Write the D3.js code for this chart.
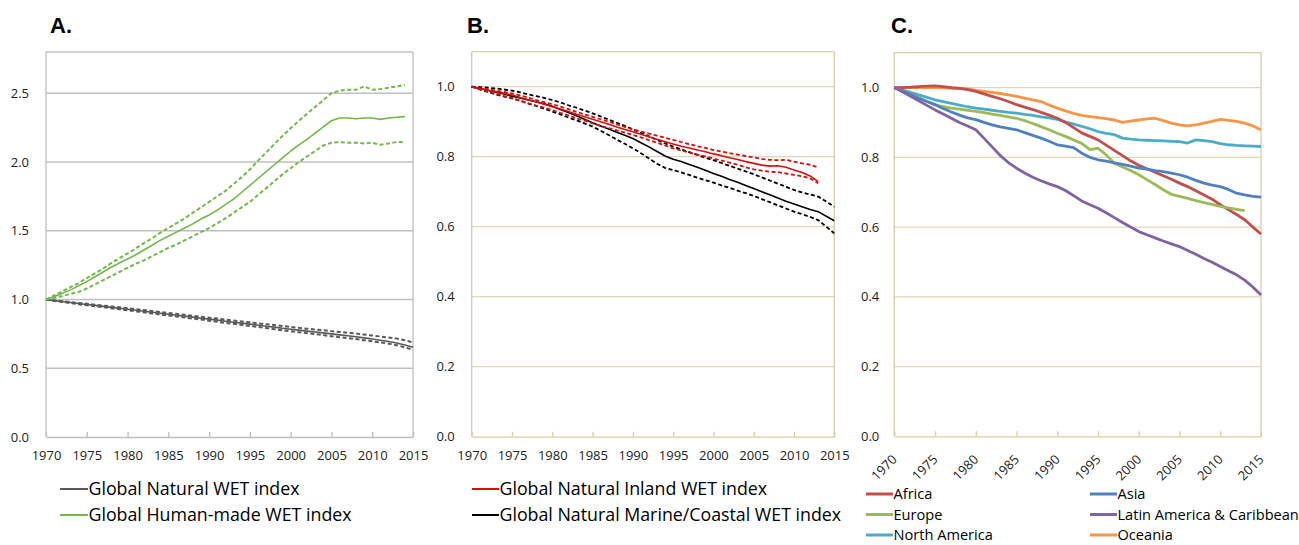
<!DOCTYPE html>
<html><head><meta charset="utf-8">
<script src="https://cdn.jsdelivr.net/npm/d3@7"></script>
<style>body{margin:0;background:#fff;} svg{display:block;}</style>
</head><body><svg id="c" width="1299" height="545"></svg>
<script>
// ---------- DATA ----------
const years = d3.range(1970, 2016);           // 1970..2015
const xTickLabels = [1970,1975,1980,1985,1990,1995,2000,2005,2010,2015];
const yTicksA = [0, 0.5, 1.0, 1.5, 2.0, 2.5];
const yTicksBC = [0, 0.2, 0.4, 0.6, 0.8, 1.0];

// Panel A
const natural = [1.000,.992,.985,.978,.971,.964,.957,.950,.943,.936,.929,.922,.915,.907,.900,.893,.886,.879,.872,.864,.857,.850,.842,.835,.828,.821,.813,.806,.799,.791,.784,.777,.770,.764,.757,.750,.743,.736,.729,.721,.713,.704,.694,.683,.669,.653];
const naturalHi = [1.000,.993,.987,.981,.975,.969,.962,.956,.950,.943,.936,.930,.923,.916,.909,.902,.896,.889,.882,.875,.868,.861,.854,.847,.840,.834,.827,.820,.814,.807,.800,.794,.788,.782,.776,.770,.764,.758,.752,.745,.738,.731,.724,.716,.704,.688];
const naturalLo = [1.000,.990,.982,.974,.966,.958,.951,.944,.936,.929,.922,.914,.907,.899,.891,.884,.876,.869,.861,.854,.846,.838,.830,.823,.815,.807,.800,.792,.784,.776,.769,.762,.755,.748,.741,.733,.726,.719,.712,.704,.696,.688,.679,.668,.652,.634];
const humanMade = [1.0,1.02,1.045,1.07,1.10,1.13,1.165,1.20,1.235,1.265,1.295,1.325,1.36,1.395,1.43,1.46,1.49,1.52,1.55,1.585,1.615,1.65,1.69,1.73,1.78,1.83,1.88,1.93,1.98,2.03,2.08,2.125,2.165,2.21,2.255,2.30,2.32,2.32,2.315,2.32,2.32,2.31,2.32,2.325,2.33];
const humanMadeHi = [1.0,1.03,1.06,1.09,1.12,1.155,1.19,1.225,1.265,1.30,1.335,1.37,1.41,1.445,1.485,1.52,1.555,1.59,1.63,1.67,1.71,1.75,1.79,1.84,1.89,1.945,2.01,2.07,2.13,2.19,2.245,2.30,2.35,2.40,2.45,2.50,2.52,2.525,2.525,2.55,2.525,2.53,2.54,2.55,2.56];
const humanMadeLo = [1.0,1.01,1.025,1.04,1.055,1.08,1.11,1.14,1.17,1.20,1.23,1.26,1.285,1.315,1.345,1.375,1.40,1.43,1.46,1.49,1.52,1.555,1.59,1.63,1.67,1.71,1.76,1.81,1.86,1.91,1.955,2.00,2.04,2.08,2.12,2.14,2.145,2.14,2.14,2.135,2.14,2.125,2.135,2.145,2.145];

// Panel B
const marine = [1.000,.995,.990,.984,.979,.973,.968,.962,.957,.951,.944,.935,.926,.917,.907,.897,.888,.879,.870,.861,.852,.840,.828,.815,.802,.793,.786,.778,.770,.761,.752,.744,.735,.727,.718,.709,.700,.691,.682,.673,.665,.657,.649,.643,.630,.617];
const marineHi = [1.0,.999,.997,.995,.992,.989,.984,.978,.973,.968,.962,.955,.947,.940,.932,.924,.915,.906,.897,.888,.878,.868,.858,.848,.838,.829,.821,.813,.805,.797,.790,.782,.774,.766,.758,.750,.741,.732,.723,.714,.705,.698,.692,.686,.672,.657];
const marineLo = [1.0,.992,.985,.978,.972,.967,.960,.952,.945,.937,.929,.921,.912,.904,.895,.886,.874,.862,.849,.837,.824,.810,.795,.780,.768,.762,.755,.748,.740,.733,.726,.718,.711,.703,.696,.688,.679,.670,.661,.652,.643,.636,.628,.619,.600,.581];
const inland = [1.0,.995,.990,.986,.981,.976,.969,.963,.956,.950,.943,.936,.929,.921,.914,.907,.900,.893,.885,.878,.871,.864,.857,.850,.843,.836,.830,.825,.819,.814,.808,.803,.797,.792,.786,.781,.776,.773,.774,.770,.762,.755,.745,.729];
const inlandHi = [1.0,.996,.992,.989,.985,.981,.975,.969,.962,.956,.950,.943,.936,.928,.921,.914,.907,.900,.892,.885,.878,.872,.866,.860,.854,.848,.842,.836,.830,.825,.819,.815,.810,.806,.802,.798,.794,.791,.790,.791,.786,.781,.777,.769];
const inlandLo = [1.0,.993,.986,.980,.973,.967,.960,.953,.946,.940,.933,.925,.918,.910,.903,.895,.888,.882,.875,.869,.862,.855,.847,.840,.832,.824,.818,.812,.806,.801,.795,.789,.783,.777,.770,.764,.760,.757,.756,.752,.748,.744,.738,.724];

// Panel C
const africa = [1.0,1.0,1.001,1.003,1.004,1.005,1.003,1.0,.998,.994,.989,.982,.975,.968,.960,.951,.944,.937,.929,.921,.912,.900,.885,.870,.860,.850,.835,.820,.805,.790,.777,.767,.757,.747,.737,.726,.716,.704,.692,.680,.664,.650,.636,.621,.600,.580];
const asia = [1.0,.990,.980,.970,.960,.951,.940,.930,.921,.913,.908,.900,.893,.887,.883,.879,.871,.863,.855,.846,.836,.832,.828,.812,.800,.793,.789,.784,.780,.775,.769,.766,.762,.759,.755,.750,.743,.734,.726,.720,.716,.708,.697,.692,.688,.686];
const europe = [1.0,.990,.980,.970,.960,.951,.945,.941,.938,.935,.932,.928,.924,.920,.916,.912,.905,.897,.888,.879,.869,.860,.850,.840,.822,.826,.807,.783,.772,.762,.750,.736,.722,.707,.694,.688,.682,.676,.670,.665,.659,.655,.651,.647];
const latinAmerica = [1.0,.988,.975,.962,.949,.936,.924,.912,.900,.890,.879,.855,.830,.805,.785,.769,.755,.743,.733,.724,.716,.705,.690,.675,.664,.654,.641,.627,.613,.600,.587,.578,.569,.560,.552,.544,.533,.522,.510,.499,.487,.475,.463,.448,.428,.405];
const northAmerica = [1.0,.993,.986,.979,.972,.965,.960,.955,.950,.945,.941,.938,.935,.932,.929,.927,.923,.920,.916,.913,.909,.902,.895,.889,.882,.874,.869,.865,.855,.852,.850,.849,.848,.847,.846,.845,.841,.850,.848,.845,.839,.836,.834,.833,.832,.831];
const oceania = [1.0,1.0,1.0,1.0,1.0,1.0,.999,.998,.998,.996,.992,.989,.986,.983,.979,.975,.970,.965,.960,.950,.941,.933,.926,.920,.917,.914,.911,.907,.900,.904,.907,.910,.912,.905,.898,.893,.890,.893,.898,.903,.909,.906,.903,.898,.890,.879];

const legendA = ["Global Natural WET index", "Global Human-made WET index"];
const legendB = ["Global Natural Inland WET index", "Global Natural Marine/Coastal WET index"];
const legendC = ["Africa","Asia","Europe","Latin America & Caribbean","North America","Oceania"];

// ---------- DRAW ----------
const svg = d3.select("#c");
const FONT = "'Open Sans', sans-serif";

function panel(cfg) {
  const x = d3.scaleLinear().domain([1970, 2015]).range([cfg.x0, cfg.x1]);
  const y = d3.scaleLinear().domain([0, cfg.yMax]).range([cfg.y1, cfg.y0]);
  const g = svg.append("g");
  g.append("text").attr("x", cfg.tx).attr("y", 33).text(cfg.title)
    .attr("font-family", "'Liberation Sans', Arial, sans-serif").attr("font-weight", "bold")
    .attr("font-size", 22).attr("fill", "#000");
  g.selectAll(".grid").data(cfg.yTicks.filter(d => d > 0)).enter().append("line")
    .attr("x1", cfg.x0).attr("x2", cfg.x1).attr("y1", d => y(d)).attr("y2", d => y(d))
    .attr("stroke", cfg.grid).attr("stroke-width", 1.3);
  g.append("line").attr("x1", cfg.x0).attr("x2", cfg.x1).attr("y1", cfg.y0).attr("y2", cfg.y0).attr("stroke", cfg.border).attr("stroke-width", 1.3);
  g.append("line").attr("x1", cfg.x1).attr("x2", cfg.x1).attr("y1", cfg.y0).attr("y2", cfg.y1).attr("stroke", cfg.border).attr("stroke-width", 1.3);
  g.append("line").attr("x1", cfg.x0).attr("x2", cfg.x0).attr("y1", cfg.y0).attr("y2", cfg.y1).attr("stroke", cfg.leftAxis).attr("stroke-width", 1.3);
  const xa = g.append("g").attr("transform", `translate(0,${cfg.y1})`)
    .call(d3.axisBottom(x).tickValues(xTickLabels).tickFormat(d3.format("d")).tickSizeInner(-5).tickSizeOuter(0).tickPadding(14));
  xa.select(".domain").attr("stroke", cfg.bottomAxis).attr("stroke-width", 1.3);
  xa.selectAll(".tick line").attr("stroke", cfg.bottomAxis).attr("stroke-width", 1.3);
  xa.selectAll("text").attr("font-family", FONT).attr("font-size", 13).attr("fill", "#222");
  if (cfg.rotate) {
    xa.selectAll("text").attr("text-anchor", "end").attr("x", 0).attr("y", 0).attr("dy", 0)
      .attr("transform", "translate(3,24) rotate(-45)");
  }
  const ya = g.append("g").attr("transform", `translate(${cfg.x0},0)`)
    .call(d3.axisLeft(y).tickValues(cfg.yTicks).tickFormat(d3.format(".1f")).tickSize(0).tickPadding(cfg.ypad));
  ya.select(".domain").remove();
  ya.selectAll("text").attr("font-family", FONT).attr("font-size", 13).attr("fill", "#222");
  cfg.series.forEach(s => {
    const line = d3.line().x((d, i) => x(years[i])).y(d => y(d));
    g.append("path").datum(s.values).attr("d", line).attr("fill", "none")
      .attr("stroke", s.color).attr("stroke-width", s.width)
      .attr("stroke-dasharray", s.dash || null).attr("stroke-linejoin", "round");
  });
  return {x, y};
}

const grey = "#595959", green = "#72b84b", red = "#d40f0f", black = "#000";
panel({title: "A.", tx: 50, x0: 46, x1: 413, y0: 52, y1: 437, yMax: 2.8, yTicks: yTicksA,
  grid: "#bfbfbf", border: "#bfbfbf", leftAxis: "#bfbfbf", bottomAxis: "#bfbfbf", ypad: 17,
  series: [
    {values: naturalHi, color: grey, width: 2, dash: "4,2.5"},
    {values: naturalLo, color: grey, width: 2, dash: "4,2.5"},
    {values: natural, color: grey, width: 1.6},
    {values: humanMadeHi, color: green, width: 2, dash: "4,2.5"},
    {values: humanMadeLo, color: green, width: 2, dash: "4,2.5"},
    {values: humanMade, color: green, width: 1.6}
  ]});
panel({title: "B.", tx: 467, x0: 471.7, x1: 834.3, y0: 51.7, y1: 436.7, yMax: 1.1, yTicks: yTicksBC,
  grid: "#ddd8bb", border: "#d4cfa8", leftAxis: "#c8c8c8", bottomAxis: "#d4cfa8", ypad: 17,
  series: [
    {values: marineHi, color: black, width: 1.8, dash: "4,2.5"},
    {values: marineLo, color: black, width: 1.8, dash: "4,2.5"},
    {values: marine, color: black, width: 1.6},
    {values: inlandHi, color: red, width: 1.8, dash: "4,2.5"},
    {values: inlandLo, color: red, width: 1.8, dash: "4,2.5"},
    {values: inland, color: red, width: 1.6}
  ]});
const cColors = {Africa: "#c0504d", Asia: "#4f81bd", Europe: "#9bbb59", "Latin America & Caribbean": "#8064a2", "North America": "#4bacc6", Oceania: "#f79646"};
panel({title: "C.", tx: 891, x0: 894.3, x1: 1261, y0: 52.7, y1: 436.3, yMax: 1.1, yTicks: yTicksBC, rotate: true,
  grid: "#ddd8bb", border: "#d4cfa8", leftAxis: "#d4cfa8", bottomAxis: "#d4cfa8", ypad: 15,
  series: [
    {values: oceania, color: cColors.Oceania, width: 2.8},
    {values: northAmerica, color: cColors["North America"], width: 2.8},
    {values: africa, color: cColors.Africa, width: 2.8},
    {values: europe, color: cColors.Europe, width: 2.8},
    {values: asia, color: cColors.Asia, width: 2.8},
    {values: latinAmerica, color: cColors["Latin America & Caribbean"], width: 2.8}
  ]});

function legendItem(x, y, len, color, width, label, size) {
  svg.append("line").attr("x1", x).attr("x2", x + len).attr("y1", y).attr("y2", y)
    .attr("stroke", color).attr("stroke-width", width);
  svg.append("text").attr("x", x + len + 0.5).attr("y", y).attr("dy", "0.35em").text(label)
    .attr("font-family", FONT).attr("font-size", size).attr("fill", "#000");
}
legendItem(60, 489, 28, grey, 2, legendA[0], 17.8);
legendItem(60, 515, 28, green, 2, legendA[1], 17.8);
legendItem(472, 489, 27, red, 2, legendB[0], 17.8);
legendItem(472, 515, 27, black, 2, legendB[1], 17.8);
const cPos = [[866, 494], [1090, 494], [866, 514.5], [1090, 514.5], [866, 535], [1090, 535]];
legendC.forEach((name, i) => legendItem(cPos[i][0], cPos[i][1], 27, cColors[name], 3, name, 14.6));
</script>
</body></html>
